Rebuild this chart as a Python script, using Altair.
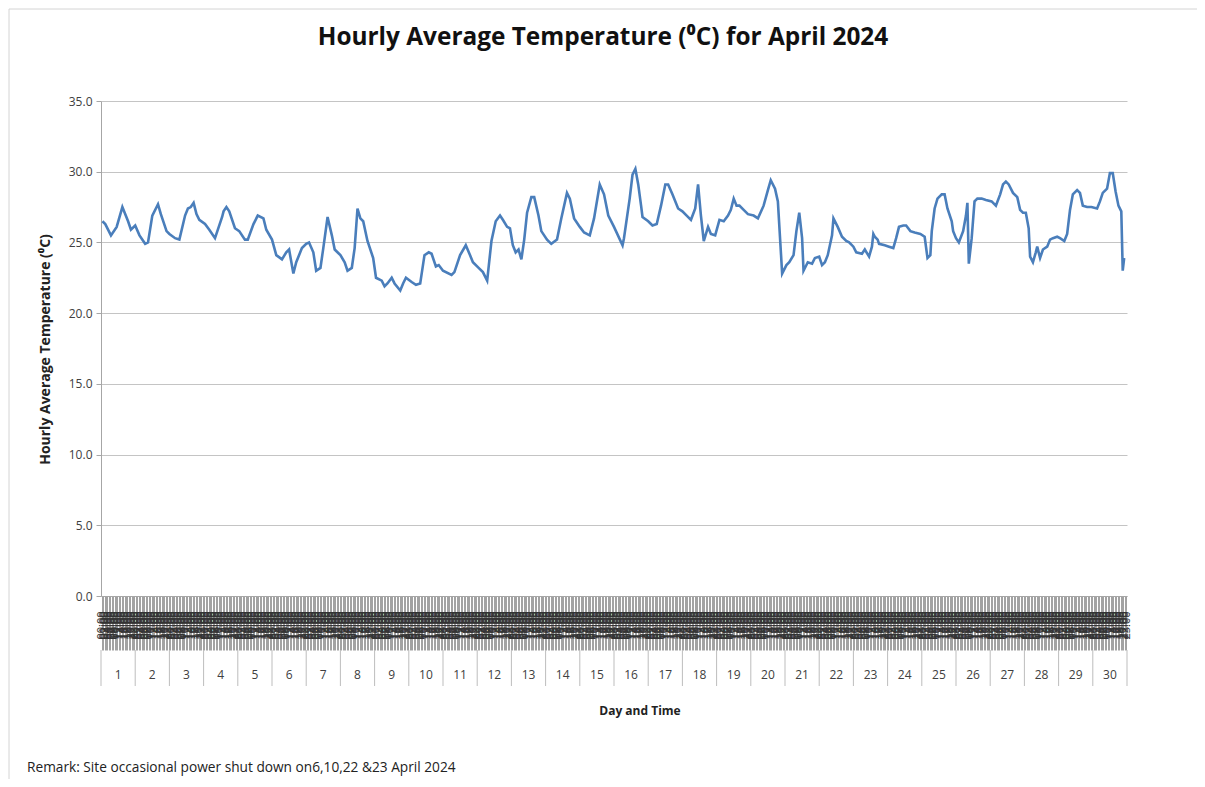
import altair as alt
import pandas as pd

TITLE = "Hourly Average Temperature (\u2070C) for April 2024"
Y_TITLE = "Hourly Average Temperature (\u2070C)"
X_TITLE = "Day and Time"
REMARK = "Remark: Site occasional power shut down on6,10,22 &23 April 2024"

DAYS = list(range(1, 31))
HOUR_LABELS = [f"{h:02d}:00" for h in range(24)]
Y_TICKS = [0, 5, 10, 15, 20, 25, 30, 35]

# hour index (0 = 1 April 00:00) and temperature readings, by stretch of days
H_A = [1, 3, 7, 11, 15, 19, 21, 24, 27, 31, 33, 36, 40, 42, 46, 48, 52, 55, 59, 61,
       63, 65, 67, 69, 73, 76, 80, 82, 85, 86, 88, 90, 94, 97, 101, 103, 107, 110, 114, 116]
T_A = [26.5, 26.3, 25.5, 26.1, 27.5, 26.5, 25.9, 26.2, 25.5, 24.9, 25.0, 26.9, 27.7, 27.0, 25.8, 25.6, 25.3, 25.2, 26.9, 27.4,
       27.5, 27.8, 27.0, 26.6, 26.3, 25.9, 25.3, 25.9, 26.8, 27.2, 27.5, 27.2, 26.0, 25.8, 25.2, 25.2, 26.3, 26.9, 26.7, 25.9]

H_B = [120, 123, 127, 130, 132, 135, 137, 141, 144, 146, 149, 151, 154, 156, 159, 162, 164, 168, 171, 173,
       176, 178, 180, 182, 184, 187, 191, 193, 197, 199, 201, 204, 206, 210, 212, 214, 218, 221, 224, 227,
       230, 232, 235]
T_B = [25.2, 24.1, 23.8, 24.3, 24.5, 22.8, 23.6, 24.6, 24.9, 25.0, 24.3, 23.0, 23.2, 24.6, 26.8, 25.5, 24.5, 24.1, 23.6, 23.0,
       23.2, 24.6, 27.4, 26.7, 26.5, 25.1, 23.9, 22.5, 22.3, 21.9, 22.1, 22.5, 22.1, 21.6, 22.1, 22.5, 22.2, 22.0, 22.1, 24.1,
       24.3, 24.2, 23.3]

H_C = [237, 240, 246, 248, 252, 256, 259, 261, 265, 268, 271, 274, 277, 280, 282, 285, 287, 289, 291, 293,
       295, 297, 299, 302, 304, 307, 309, 313, 316, 320, 323, 327, 329, 332, 336, 339, 343, 346, 350, 353,
       356, 360]
T_C = [23.4, 23.0, 22.7, 22.9, 24.1, 24.8, 24.1, 23.6, 23.2, 22.9, 22.3, 25.1, 26.5, 26.9, 26.6, 26.1, 26.0, 24.8, 24.3, 24.5,
       23.8, 25.2, 27.1, 28.2, 28.2, 26.9, 25.8, 25.2, 24.9, 25.2, 26.7, 28.5, 28.1, 26.7, 26.1, 25.7, 25.5, 26.7, 29.1, 28.4,
       26.9, 26.1]

H_D = [366, 367, 371, 373, 375, 377, 379, 380, 384, 387, 390, 393, 396, 398, 401, 405, 408, 411, 414, 417,
       419, 421, 423, 426, 428, 431, 434, 437, 440, 442, 444, 446, 448, 451, 454, 458, 461, 465, 468, 470,
       473, 475]
T_D = [24.8, 25.3, 28.1, 29.8, 30.2, 29.1, 27.6, 26.8, 26.5, 26.2, 26.3, 27.6, 29.1, 29.1, 28.4, 27.4, 27.2, 26.9, 26.6, 27.4,
       29.1, 26.9, 25.1, 26.1, 25.6, 25.5, 26.6, 26.5, 26.9, 27.3, 28.1, 27.6, 27.6, 27.3, 27.0, 26.9, 26.7, 27.6, 28.7, 29.4,
       28.8, 27.9]

H_E = [478, 481, 483, 486, 488, 490, 492, 493, 496, 499, 501, 504, 506, 508, 510, 513, 514, 517, 520, 523,
       525, 528, 530, 534, 536, 539, 541, 542, 543, 545, 546, 550, 553, 556, 558, 560, 563, 565, 568, 571,
       575, 578, 580, 582, 583, 585, 587, 590, 592, 594, 597]
T_E = [22.8, 23.4, 23.6, 24.1, 25.8, 27.1, 25.3, 23.0, 23.6, 23.5, 23.9, 24.0, 23.4, 23.6, 24.1, 25.5, 26.7, 26.1, 25.4, 25.1,
       25.0, 24.7, 24.3, 24.2, 24.5, 24.0, 24.7, 25.6, 25.4, 25.2, 24.9, 24.8, 24.7, 24.6, 25.3, 26.1, 26.2, 26.2, 25.8, 25.7,
       25.6, 25.4, 23.9, 24.1, 25.8, 27.4, 28.1, 28.4, 28.4, 27.4, 26.5]

H_F = [598, 600, 602, 605, 607, 608, 609, 611, 613, 615, 618, 621, 625, 628, 631, 633, 635, 637, 640, 643,
       645, 647, 649, 651, 652, 654, 656, 657, 659, 661, 664, 666, 668, 671, 673, 676, 678, 680, 682, 685,
       687, 689, 692, 695, 699, 701, 703, 706, 708, 710, 712, 714, 716, 717, 718]
T_F = [25.8, 25.3, 25.0, 25.8, 26.9, 27.8, 23.5, 25.3, 27.9, 28.1, 28.1, 28.0, 27.9, 27.6, 28.4, 29.1, 29.3, 29.1, 28.5, 28.2,
       27.3, 27.1, 27.1, 26.0, 24.0, 23.6, 24.3, 24.7, 23.9, 24.5, 24.7, 25.2, 25.3, 25.4, 25.3, 25.1, 25.6, 27.3, 28.4, 28.7,
       28.5, 27.6, 27.5, 27.5, 27.4, 27.9, 28.5, 28.8, 29.9, 29.9, 28.6, 27.6, 27.2, 23.0, 23.9]

HOURS = H_A + H_B + H_C + H_D + H_E + H_F
TEMPS = T_A + T_B + T_C + T_D + T_E + T_F

FONT = "Open Sans"
BLUE = "#4a7ebb"
GRID = "#c4c4c4"

df = pd.DataFrame({"hour": HOURS, "temp": TEMPS})
days_df = pd.DataFrame({"day": DAYS, "center": [24 * (d - 1) + 12 for d in DAYS]})
bounds_df = pd.DataFrame({"b": [24 * i for i in range(len(DAYS) + 1)]})

xscale = alt.Scale(domain=[0, 720], nice=False, zero=False)
label_arr = "[" + ",".join(f"'{s}'" for s in HOUR_LABELS) + "]"

x_axis = alt.Axis(
    values=[h + 0.5 for h in range(720)], tickCount=2000,
    labelExpr=label_arr + "[floor(datum.value) % 24]",
    labelAngle=270, labelFontSize=11, labelColor="#333333", labelFont=FONT,
    labelOverlap=False, labelBound=False, labelFlush=False, labelPadding=-39,
    tickSize=54, tickColor="#a2a2a2", tickWidth=1.0,
    domainColor="#a6a6a6", grid=False, title=None,
)
y_axis = alt.Axis(
    values=Y_TICKS, format=".1f", grid=True, gridColor=GRID, gridWidth=1,
    domainColor="#a6a6a6", tickColor="#a6a6a6", tickSize=5,
    labelFontSize=12, labelColor="#404040", labelFont=FONT, labelPadding=4,
    title=Y_TITLE, titleFont=FONT, titleFontSize=14, titleFontWeight="bold",
    titleColor="#222222", titleX=-56, titleY=248, titleAngle=270,
    titleAlign="center", titleBaseline="middle",
)

line = alt.Chart(df).mark_line(color=BLUE, strokeWidth=2.6).encode(
    x=alt.X("hour:Q", scale=xscale, axis=x_axis),
    y=alt.Y("temp:Q", scale=alt.Scale(domain=[0, 35], nice=False), axis=y_axis),
)

day_rules = alt.Chart(bounds_df).mark_rule(color="#bdbdbd", strokeWidth=1).encode(
    x=alt.X("b:Q", scale=xscale),
    y=alt.value(549), y2=alt.value(585),
)

day_text = alt.Chart(days_df).mark_text(font=FONT, fontSize=12, color="#404040").encode(
    x=alt.X("center:Q", scale=xscale),
    y=alt.value(574),
    text="day:N",
)

title = alt.Chart(pd.DataFrame({"t": [TITLE]})).mark_text(
    font=FONT, fontSize=24.4, fontWeight="bold", color="#111111", baseline="middle"
).encode(x=alt.value(502), y=alt.value(-63), text="t:N")

xtitle = alt.Chart(pd.DataFrame({"t": [X_TITLE]})).mark_text(
    font=FONT, fontSize=12, fontWeight="bold", color="#222222", baseline="middle"
).encode(x=alt.value(539), y=alt.value(610), text="t:N")

remark = alt.Chart(pd.DataFrame({"t": [REMARK]})).mark_text(
    font=FONT, fontSize=13.7, color="#222222", align="left", baseline="middle"
).encode(x=alt.value(-74), y=alt.value(667), text="t:N")

border = alt.Chart(pd.DataFrame({"a": [0]})).mark_rect(
    fillOpacity=0, stroke="#d4d4d4", strokeWidth=1
).encode(x=alt.value(-92), x2=alt.value(1099), y=alt.value(-92), y2=alt.value(700))

chart = alt.layer(line, border, day_rules, day_text, title, xtitle, remark).properties(
    width=1026, height=495,
    autosize=alt.AutoSizeParams(type="none"),
    padding={"left": 93, "top": 93, "right": 70, "bottom": 183},
    background="white",
).configure_view(stroke="transparent")

chart.save("out.html", embed_options={"renderer": "svg", "actions": False})
